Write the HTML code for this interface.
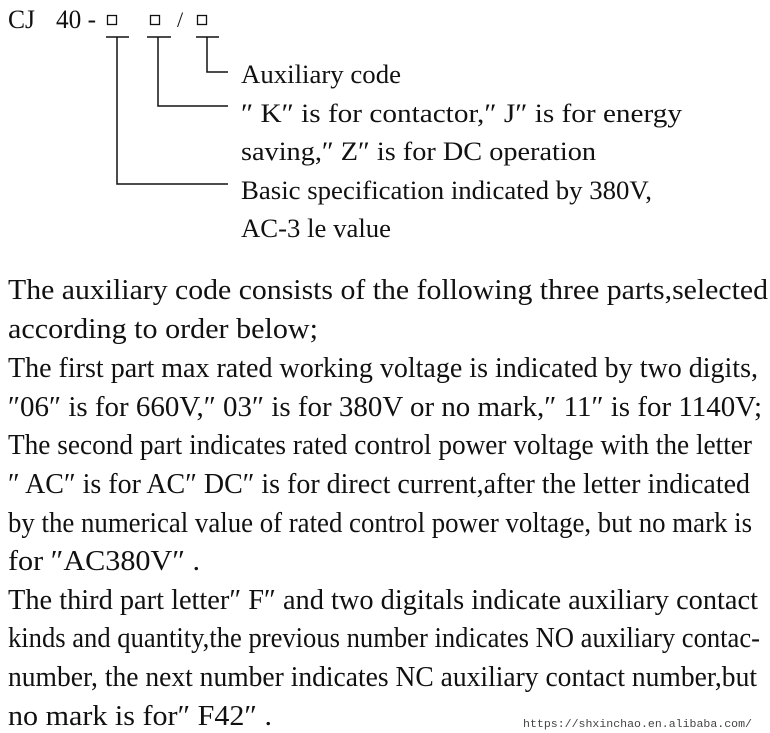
<!DOCTYPE html>
<html><head><meta charset="utf-8"><style>
html,body{margin:0;padding:0;background:#fff;}
svg{display:block}
text{font-family:"Liberation Serif","Noto Serif CJK SC",serif;fill:#111;}
</style></head><body>
<svg width="770" height="733" viewBox="0 0 770 733" xmlns="http://www.w3.org/2000/svg">
<text x="8" y="28" font-size="26" textLength="27" lengthAdjust="spacingAndGlyphs">CJ</text>
<text x="56" y="28" font-size="26" textLength="40" lengthAdjust="spacingAndGlyphs">40 -</text>
<g fill="none" stroke="#111" stroke-width="1.3">
<rect x="107.5" y="15.5" width="9" height="9"/>
<rect x="150.5" y="15.5" width="9" height="9"/>
<rect x="197.5" y="15.5" width="9" height="9"/>
</g>
<text x="177" y="27" font-size="22">/</text>
<g stroke="#111" stroke-width="1.5" fill="none">
<path d="M106 37H129M147 37H171M196 37H219"/>
<path d="M117 37V184H228"/>
<path d="M158 37V106H228"/>
<path d="M207 37V72H228"/>
</g>
<g font-size="26">
<text x="241" y="83" textLength="160" lengthAdjust="spacingAndGlyphs">Auxiliary code</text>
<text x="241" y="122" textLength="441" lengthAdjust="spacingAndGlyphs">″ K″ is for contactor,″ J″ is for energy</text>
<text x="241" y="160" textLength="355" lengthAdjust="spacingAndGlyphs">saving,″ Z″ is for DC operation</text>
<text x="241" y="199" textLength="411" lengthAdjust="spacingAndGlyphs">Basic specification indicated by 380V,</text>
<text x="241" y="237" textLength="150" lengthAdjust="spacingAndGlyphs">AC-3 le value</text>
</g>
<g font-size="28.5">
<text x="8" y="299" textLength="760" lengthAdjust="spacingAndGlyphs">The auxiliary code consists of the following three parts,selected</text>
<text x="8" y="338" textLength="310" lengthAdjust="spacingAndGlyphs">according to order below;</text>
<text x="8" y="377" textLength="750" lengthAdjust="spacingAndGlyphs">The first part max rated working voltage is indicated by two digits,</text>
<text x="8" y="416" textLength="754" lengthAdjust="spacingAndGlyphs">″06″ is for 660V,″ 03″ is for 380V or no mark,″ 11″ is for 1140V;</text>
<text x="8" y="454" textLength="744" lengthAdjust="spacingAndGlyphs">The second part indicates rated control power voltage with the letter</text>
<text x="8" y="493" textLength="742" lengthAdjust="spacingAndGlyphs">″ AC″ is for AC″ DC″ is for direct current,after the letter indicated</text>
<text x="8" y="532" textLength="744" lengthAdjust="spacingAndGlyphs">by the numerical value of rated control power voltage, but no mark is</text>
<text x="8" y="570" textLength="192" lengthAdjust="spacingAndGlyphs">for ″AC380V″ .</text>
<text x="8" y="609" textLength="750" lengthAdjust="spacingAndGlyphs">The third part letter″ F″ and two digitals indicate auxiliary contact</text>
<text x="8" y="647" textLength="752" lengthAdjust="spacingAndGlyphs">kinds and quantity,the previous number indicates NO auxiliary contac-</text>
<text x="8" y="686" textLength="749" lengthAdjust="spacingAndGlyphs">number, the next number indicates NC auxiliary contact number,but</text>
<text x="8" y="725" textLength="264" lengthAdjust="spacingAndGlyphs">no mark is  for″ F42″ .</text>
</g>
<text x="523" y="727" font-size="11" style="font-family:'Liberation Mono',monospace;fill:#444" textLength="229" lengthAdjust="spacingAndGlyphs">https://shxinchao.en.alibaba.com/</text>
</svg>
</body></html>
